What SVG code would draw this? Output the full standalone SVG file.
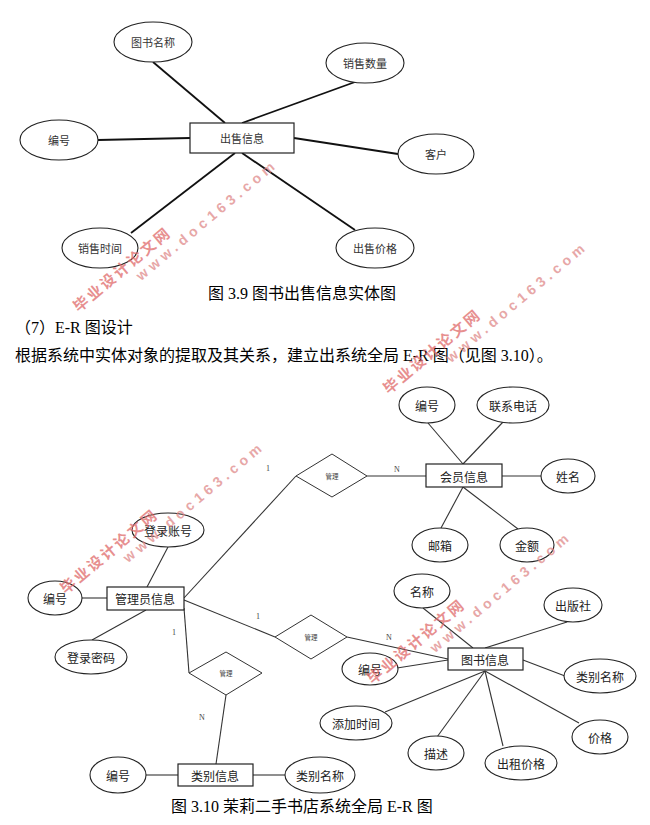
<svg xmlns="http://www.w3.org/2000/svg" xmlns:xlink="http://www.w3.org/1999/xlink" width="650" height="825" viewBox="0 0 650 825">
<style>
  .bg { fill: #ffffff; }
  .ent { fill: #ffffff; stroke: #222; stroke-width: 1.2; }
  .att { fill: #ffffff; stroke: #222; stroke-width: 1.1; }
  .rel { fill: #ffffff; stroke: #333; stroke-width: 1; }
  .ln1 { stroke: #111; stroke-width: 1.8; fill: none; }
  .ln2 { stroke: #333; stroke-width: 1.1; fill: none; }
  .t1 { font-family: "Noto Sans CJK SC", sans-serif; font-size: 11px; fill: #333; text-anchor: middle; dominant-baseline: central; }
  .t2 { font-family: "Noto Sans CJK SC", sans-serif; font-size: 12px; fill: #222; text-anchor: middle; dominant-baseline: central; }
  .t3 { font-family: "Noto Sans CJK SC", sans-serif; font-size: 6.5px; fill: #444; text-anchor: middle; dominant-baseline: central; }
  .card { font-family: "Liberation Serif", serif; font-size: 8px; fill: #444; text-anchor: middle; dominant-baseline: central; }
  .body { font-family: "Liberation Serif", "Noto Sans CJK SC", serif; font-size: 16px; fill: #000; }
  .wmc { font-family: "Noto Sans CJK SC", sans-serif; font-size: 15px; font-weight: bold; fill: #e06a6a; opacity: 0.75; letter-spacing: 2.5px; }
  .wmw { font-family: "Liberation Sans", sans-serif; font-size: 14px; font-weight: bold; fill: #e08a8a; opacity: 0.75; letter-spacing: 4.5px; }
</style>
<defs>
  <g id="wm" transform="rotate(-40)">
    <text class="wmc" x="-8" y="6">毕业设计论文网</text>
    <text class="wmw" x="60" y="22">www.doc163.com</text>
  </g>
</defs>
<rect class="bg" x="0" y="0" width="650" height="825"/>

<!-- ===== Figure 3.9 ===== -->
<g id="connectors-fig39">
  <line class="ln1" x1="153" y1="62" x2="225" y2="123"/>
  <line class="ln1" x1="98" y1="140" x2="190" y2="138"/>
  <line class="ln1" x1="131" y1="233" x2="235" y2="153"/>
  <line class="ln1" x1="242" y1="153" x2="355" y2="230"/>
  <line class="ln1" x1="242" y1="123" x2="355" y2="82"/>
  <line class="ln1" x1="294" y1="138" x2="398" y2="154"/>
</g>
<g id="sale-entity"><rect class="ent" x="190" y="123" width="104" height="30"/><text class="t1" x="242" y="138">出售信息</text></g>
<g id="sale-bookname"><ellipse class="att" cx="153" cy="42" rx="39" ry="20"/><text class="t1" x="153" y="42">图书名称</text></g>
<g id="sale-qty"><ellipse class="att" cx="365" cy="63" rx="39" ry="20"/><text class="t1" x="365" y="63">销售数量</text></g>
<g id="sale-id"><ellipse class="att" cx="59" cy="140" rx="39" ry="20"/><text class="t1" x="59" y="140">编号</text></g>
<g id="sale-customer"><ellipse class="att" cx="436" cy="154" rx="38" ry="20"/><text class="t1" x="436" y="154">客户</text></g>
<g id="sale-time"><ellipse class="att" cx="100" cy="248" rx="38" ry="20"/><text class="t1" x="100" y="248">销售时间</text></g>
<g id="sale-price"><ellipse class="att" cx="375" cy="248" rx="39" ry="20"/><text class="t1" x="375" y="248">出售价格</text></g>

<text class="body" x="208" y="299">图 3.9 图书出售信息实体图</text>
<text class="body" x="15" y="333">（7）E-R 图设计</text>
<text class="body" x="15" y="361">根据系统中实体对象的提取及其关系，建立出系统全局 E-R 图（见图 3.10）。</text>

<!-- ===== Figure 3.10 ===== -->
<g id="connectors-fig310">
  <!-- admin -->
  <line class="ln2" x1="82" y1="598" x2="107" y2="598"/>
  <line class="ln2" x1="168" y1="547" x2="147" y2="587"/>
  <line class="ln2" x1="92" y1="640" x2="146" y2="610"/>
  <line class="ln2" x1="184" y1="598" x2="296" y2="476"/>
  <line class="ln2" x1="184" y1="600" x2="275" y2="637"/>
  <line class="ln2" x1="184" y1="608" x2="189" y2="673"/>
  <!-- member -->
  <line class="ln2" x1="367" y1="476" x2="426" y2="476"/>
  <line class="ln2" x1="428" y1="423" x2="463" y2="464"/>
  <line class="ln2" x1="503" y1="422" x2="463" y2="464"/>
  <line class="ln2" x1="502" y1="476" x2="541" y2="476"/>
  <line class="ln2" x1="441" y1="528" x2="463" y2="487"/>
  <line class="ln2" x1="518" y1="529" x2="463" y2="487"/>
  <!-- category -->
  <line class="ln2" x1="226" y1="695" x2="216" y2="764"/>
  <line class="ln2" x1="146" y1="775" x2="178" y2="775"/>
  <line class="ln2" x1="253" y1="775" x2="285" y2="775"/>
  <!-- book -->
  <line class="ln2" x1="347" y1="637" x2="448" y2="659"/>
  <line class="ln2" x1="423" y1="608" x2="473" y2="648"/>
  <line class="ln2" x1="567" y1="622" x2="485" y2="648"/>
  <line class="ln2" x1="397" y1="668" x2="448" y2="660"/>
  <line class="ln2" x1="523" y1="660" x2="565" y2="676"/>
  <line class="ln2" x1="485" y1="671" x2="385" y2="712"/>
  <line class="ln2" x1="485" y1="671" x2="437" y2="737"/>
  <line class="ln2" x1="485" y1="671" x2="503" y2="746"/>
  <line class="ln2" x1="485" y1="671" x2="579" y2="723"/>
  <!-- cardinalities -->
  <text class="card" x="268" y="468">1</text>
  <text class="card" x="397" y="469">N</text>
  <text class="card" x="258" y="616">1</text>
  <text class="card" x="389" y="637">N</text>
  <text class="card" x="174" y="632">1</text>
  <text class="card" x="202" y="717">N</text>
</g>

<g id="rel-member"><polygon class="rel" points="296,476 332,454 367,476 332,497"/><text class="t3" x="332" y="476">管理</text></g>
<g id="rel-book"><polygon class="rel" points="275,637 311,615 347,637 311,659"/><text class="t3" x="311" y="637">管理</text></g>
<g id="rel-category"><polygon class="rel" points="189,673 226,652 262,673 226,695"/><text class="t3" x="226" y="673">管理</text></g>

<g id="admin"><rect class="ent" x="107" y="587" width="77" height="23"/><text class="t2" x="145" y="598">管理员信息</text></g>
<g id="admin-account"><ellipse class="att" cx="168" cy="530" rx="36" ry="17"/><text class="t2" x="168" y="530">登录账号</text></g>
<g id="admin-id"><ellipse class="att" cx="55" cy="598" rx="27" ry="17"/><text class="t2" x="55" y="598">编号</text></g>
<g id="admin-pwd"><ellipse class="att" cx="91" cy="657" rx="36" ry="17"/><text class="t2" x="91" y="657">登录密码</text></g>

<g id="member"><rect class="ent" x="426" y="464" width="76" height="23"/><text class="t2" x="464" y="476">会员信息</text></g>
<g id="member-id"><ellipse class="att" cx="427" cy="405" rx="28" ry="18"/><text class="t2" x="427" y="405">编号</text></g>
<g id="member-phone"><ellipse class="att" cx="513" cy="405" rx="36" ry="18"/><text class="t2" x="513" y="405">联系电话</text></g>
<g id="member-name"><ellipse class="att" cx="568" cy="476" rx="27" ry="17"/><text class="t2" x="568" y="476">姓名</text></g>
<g id="member-mail"><ellipse class="att" cx="440" cy="545" rx="28" ry="17"/><text class="t2" x="440" y="545">邮箱</text></g>
<g id="member-amount"><ellipse class="att" cx="527" cy="545" rx="27" ry="17"/><text class="t2" x="527" y="545">金额</text></g>

<g id="book"><rect class="ent" x="448" y="648" width="75" height="22"/><text class="t2" x="485" y="659">图书信息</text></g>
<g id="book-name"><ellipse class="att" cx="422" cy="591" rx="28" ry="17"/><text class="t2" x="422" y="591">名称</text></g>
<g id="book-publisher"><ellipse class="att" cx="573" cy="605" rx="29" ry="17"/><text class="t2" x="573" y="605">出版社</text></g>
<g id="book-id"><ellipse class="att" cx="370" cy="669" rx="28" ry="16"/><text class="t2" x="370" y="669">编号</text></g>
<g id="book-category"><ellipse class="att" cx="600" cy="676" rx="36" ry="17"/><text class="t2" x="600" y="676">类别名称</text></g>
<g id="book-addtime"><ellipse class="att" cx="356" cy="723" rx="36" ry="17"/><text class="t2" x="356" y="723">添加时间</text></g>
<g id="book-desc"><ellipse class="att" cx="436" cy="753" rx="28" ry="17"/><text class="t2" x="436" y="753">描述</text></g>
<g id="book-rent"><ellipse class="att" cx="521" cy="763" rx="36" ry="17"/><text class="t2" x="521" y="763">出租价格</text></g>
<g id="book-price"><ellipse class="att" cx="600" cy="737" rx="28" ry="17"/><text class="t2" x="600" y="737">价格</text></g>

<g id="category"><rect class="ent" x="178" y="764" width="75" height="22"/><text class="t2" x="215" y="775">类别信息</text></g>
<g id="category-id"><ellipse class="att" cx="118" cy="775" rx="28" ry="18"/><text class="t2" x="118" y="775">编号</text></g>
<g id="category-name"><ellipse class="att" cx="320" cy="775" rx="35" ry="18"/><text class="t2" x="320" y="775">类别名称</text></g>

<text class="body" x="171" y="812">图 3.10 茉莉二手书店系统全局 E-R 图</text>

<!-- watermarks -->
<use xlink:href="#wm" transform="translate(81,303)"/>
<use xlink:href="#wm" transform="translate(391,385)"/>
<use xlink:href="#wm" transform="translate(68,585)"/>
<use xlink:href="#wm" transform="translate(375,675)"/>
</svg>
